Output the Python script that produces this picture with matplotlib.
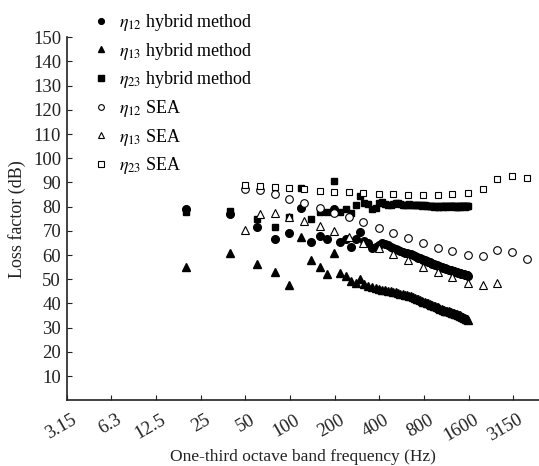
import numpy as np
import matplotlib
matplotlib.use("Agg")
import matplotlib.pyplot as plt
from matplotlib.ticker import FixedLocator, NullLocator
from matplotlib.transforms import ScaledTranslation

plt.rcParams["font.family"] = ["Liberation Serif", "DejaVu Serif"]
plt.rcParams["mathtext.fontset"] = "stix"

# hybrid method: 20 Hz steps from 20 to 1600 Hz
hybrid_freq = np.arange(20, 1620, 20)

eta12_hybrid = [
    78.9, 76.9, 71.5, 66.5, 69.0, 79.6, 65.5, 67.9, 66.8, 79.0,
    65.5, 66.5, 63.2, 66.5, 69.7, 65.9, 65.1, 62.8, 63.5, 64.3,
    64.8, 64.6, 64.0, 63.3, 62.8, 62.4, 62.0, 61.6, 61.2, 61.0,
    60.8, 60.6, 60.3, 59.9, 59.6, 59.3, 59.0, 58.7, 58.4, 58.0,
    57.8, 57.5, 57.2, 57.0, 56.8, 56.5, 56.3, 56.0, 55.8, 55.6,
    55.4, 55.1, 54.9, 54.8, 54.6, 54.5, 54.3, 54.2, 54.0, 53.9,
    53.7, 53.6, 53.4, 53.3, 53.2, 53.0, 52.9, 52.8, 52.6, 52.5,
    52.4, 52.3, 52.2, 52.1, 52.0, 51.9, 51.8, 51.7, 51.6, 51.5,
]
eta13_hybrid = [
    55.2, 61.0, 56.2, 53.1, 47.6, 67.4, 58.0, 55.0, 52.2, 61.0,
    52.5, 51.4, 49.4, 48.6, 50.0, 48.1, 47.2, 46.7, 46.4, 45.9,
    45.6, 45.4, 45.1, 45.0, 44.9, 44.7, 44.4, 44.1, 43.9, 43.6,
    43.4, 43.2, 42.9, 42.6, 42.3, 42.0, 41.7, 41.4, 41.1, 40.8,
    40.6, 40.3, 40.0, 39.8, 39.5, 39.3, 39.0, 38.8, 38.6, 38.4,
    38.2, 37.9, 37.7, 37.5, 37.3, 37.1, 37.0, 36.8, 36.7, 36.6,
    36.4, 36.2, 36.1, 35.9, 35.8, 35.6, 35.5, 35.4, 35.3, 35.2,
    35.0, 34.8, 34.5, 34.3, 34.1, 33.9, 33.7, 33.5, 33.4, 33.2,
]
eta23_hybrid = [
    77.6, 78.2, 75.0, 71.7, 75.6, 87.6, 74.8, 77.9, 77.7, 90.6,
    77.9, 78.9, 77.3, 80.7, 84.4, 81.4, 81.0, 79.0, 79.5, 81.4,
    81.8, 81.2, 80.6, 80.5, 81.0, 81.4, 81.5, 81.2, 80.8, 80.5,
    80.8, 81.0, 80.7, 80.6, 80.8, 80.9, 80.6, 80.5, 80.4, 80.5,
    80.6, 80.3, 80.2, 80.4, 80.3, 80.1, 80.0, 80.2, 80.1, 79.9,
    80.0, 80.2, 80.1, 80.0, 80.2, 80.3, 80.1, 80.0, 80.2, 80.3,
    80.4, 80.2, 80.1, 80.0, 80.2, 80.1, 80.0, 79.9, 80.1, 80.2,
    80.0, 80.1, 80.3, 80.2, 80.1, 80.0, 80.2, 80.3, 80.1, 80.2,
]

# SEA: one-third octave bands
sea_freq = [50, 63, 80, 100, 125, 160, 200, 250, 315, 400, 500, 630,
            800, 1000, 1250, 1600, 2000, 2500, 3150, 4000]
eta12_sea = [87.5, 86.9, 85.2, 83.3, 81.4, 79.3, 77.5, 75.6, 73.6, 71.1,
             69.3, 66.9, 64.9, 63.1, 61.7, 60.0, 59.6, 62.1, 61.4, 58.3]
eta13_sea = [70.4, 77.0, 77.3, 75.9, 74.1, 72.0, 70.0, 67.6, 65.1, 62.8,
             60.3, 58.0, 55.2, 52.9, 50.8, 48.6, 47.6, 48.3]
eta23_sea = [89.0, 88.6, 88.3, 87.6, 87.3, 86.6, 86.2, 85.9, 85.5, 85.2,
             85.1, 85.0, 85.0, 85.0, 85.2, 85.8, 87.2, 91.3, 92.7, 91.7]

tick_labels = ["3.15", "6.3", "12.5", "25", "50", "100", "200", "400",
               "800", "1600", "3150"]

fig = plt.figure(figsize=(5.39, 4.66), dpi=100)
ax = fig.add_axes([0.1237, 0.141, 0.8763, 0.779])

ms = 5.5
ax.plot(hybrid_freq, eta12_hybrid, "o", color="black", ms=ms, label=r"$\eta_{12}$ hybrid method")
ax.plot(hybrid_freq, eta13_hybrid, "^", color="black", ms=ms, label=r"$\eta_{13}$ hybrid method")
ax.plot(hybrid_freq, eta23_hybrid, "s", color="black", ms=ms - 0.5, label=r"$\eta_{23}$ hybrid method")
ax.plot(sea_freq, eta12_sea, "o", mfc="white", mec="black", mew=0.8, ms=ms, label=r"$\eta_{12}$ SEA")
ax.plot(sea_freq[:len(eta13_sea)], eta13_sea, "^", mfc="white", mec="black", mew=0.8, ms=ms, label=r"$\eta_{13}$ SEA")
ax.plot(sea_freq, eta23_sea, "s", mfc="white", mec="black", mew=0.8, ms=ms - 0.5, label=r"$\eta_{23}$ SEA")

ax.set_xscale("log", base=2)
ax.set_xlim(3.15, 4805)
ax.set_ylim(0, 150)

xt = [3.15 * 2 ** k for k in range(len(tick_labels))]
ax.xaxis.set_major_locator(FixedLocator(xt))
ax.xaxis.set_minor_locator(NullLocator())
ax.set_xticklabels(tick_labels, rotation=30, ha="right", rotation_mode="anchor")
ax.set_yticks(range(10, 151, 10))

ax.tick_params(axis="both", direction="in", length=3.5, width=0.8, labelsize=13.5, colors="#222222")
ax.tick_params(axis="x", pad=8)
ax.tick_params(axis="y", pad=4)
shift = ScaledTranslation(3 / 72, 0, fig.dpi_scale_trans)
for lab in ax.get_xticklabels():
    lab.set_transform(lab.get_transform() + shift)
for side in ["top", "right"]:
    ax.spines[side].set_visible(False)
for side in ["left", "bottom"]:
    ax.spines[side].set_linewidth(1.2)
    ax.spines[side].set_color("#222222")

ax.set_xlabel("One-third octave band frequency (Hz)", fontsize=12.5, color="#222222", labelpad=3)
ax.set_ylabel("Loss factor (dB)", fontsize=13, color="#222222", labelpad=5)

ax.legend(loc="upper left", bbox_to_anchor=(0.031, 1.094), frameon=False, fontsize=13,
          handlelength=1.2, handletextpad=0.4, labelspacing=0.42, markerscale=0.75, borderpad=0)

fig.savefig("out.png", dpi=100)
